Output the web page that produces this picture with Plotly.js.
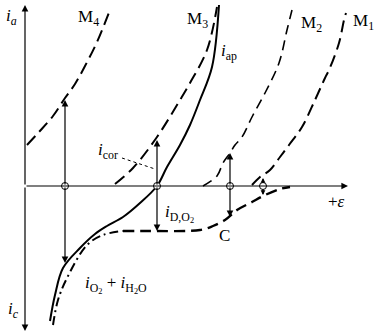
<!DOCTYPE html>
<html><head><meta charset="utf-8">
<script src="https://cdn.plot.ly/plotly-3.0.1.min.js"></script>
<style>html,body{margin:0;padding:0;background:#fff}</style>
</head><body><div id="chart" style="width:384px;height:336px"></div>
<script>
// Potential (ε) and current (i) in arbitrary units; origin = corrosion axes crossing
const m4E = [2, 14, 28, 40, 50, 60, 72, 85];
const m4I = [41, 54, 70, 88, 102, 120, 144, 176];
const m3E = [90, 108, 132, 155, 165, 182, 192];
const m3I = [2, 18, 49, 86, 103, 136, 179];
const m2E = [178, 192, 198, 205, 210, 217, 227, 240, 254, 262, 267];
const m2I = [0, 10, 23, 33, 41, 49, 69, 93, 123, 156, 176];
const m1E = [227, 235, 245, 255, 264, 277, 290, 300, 304, 314, 319, 321];
const m1I = [1, 9, 16, 29, 41, 59, 86, 108, 116, 143, 166, 173];
const sumE = [25, 30, 38, 55, 70, 82, 98, 115, 132, 142, 155, 165, 175, 187, 194];
const sumI = [-135, -109, -82, -62, -48, -40, -31, -17, 0, 19, 41, 61, 86, 119, 181];
const cathE1 = [28, 33, 42, 62, 78, 98];
const cathI1 = [-139, -114, -92, -59, -49, -45];
const cathE2 = [98, 125, 175, 188, 200, 212, 227, 238, 255, 265];
const cathI2 = [-45, -45, -44, -40, -34, -24, -16, -10, -3, -1];
const pointE = [40, 132, 205, 238];
const arrowUp = [86, 46, 33, 8];
const arrowDown = [-77, -45, -31, -9];
const leaderE = [97, 130];
const leaderI = [28, 17];

const font = {family: 'Liberation Serif, Times New Roman, serif', size: 17, color: '#000'};
const traces = [
  {x: m4E, y: m4I, mode: 'lines', line: {color: '#000', width: 2, dash: '12px,6px', shape: 'spline'}},
  {x: m3E, y: m3I, mode: 'lines', line: {color: '#000', width: 2, dash: '12px,6px', shape: 'spline'}},
  {x: m2E, y: m2I, mode: 'lines', line: {color: '#000', width: 1.6, dash: '10px,6px', shape: 'spline'}},
  {x: m1E, y: m1I, mode: 'lines', line: {color: '#000', width: 2, dash: '12px,6px', shape: 'spline'}},
  {x: sumE, y: sumI, mode: 'lines', line: {color: '#000', width: 2, shape: 'spline'}},
  {x: cathE1, y: cathI1, mode: 'lines', line: {color: '#000', width: 2, dash: '9px,4px,2px,4px', shape: 'spline'}},
  {x: cathE2, y: cathI2, mode: 'lines', line: {color: '#000', width: 2.4, dash: '11px,6px', shape: 'spline'}},
  {x: leaderE, y: leaderI, mode: 'lines', line: {color: '#000', width: 1, dash: 'dot'}},
];

const anns = [];
function arrow(x, y, ax, ay, small) {
  anns.push({x: x, y: y, ax: ax, ay: ay, xref: 'x', yref: 'y', axref: 'x', ayref: 'y',
    text: '', showarrow: true, arrowhead: 2, arrowsize: small ? 0.6 : 1.1, arrowwidth: small ? 1.6 : 1.2,
    arrowcolor: '#000', standoff: 0, startstandoff: small ? 2 : 0});
}
// axes
arrow(0, 181, 0, 0); arrow(0, -145, 0, 0); arrow(323, 0, 0, 0);
pointE.forEach((e, k) => { arrow(e, arrowUp[k], e, 0, k === 3); arrow(e, arrowDown[k], e, 0, k === 3); });

function label(x, y, t, size) {
  anns.push({x: x, y: y, xref: 'x', yref: 'y', text: t, showarrow: false,
    font: Object.assign({}, font, size ? {size: size} : {}), xanchor: 'center', yanchor: 'middle'});
}
label(-14, 169, '<i>i</i><sub><i>a</i></sub>');
label(-12, -124, '<i>i</i><sub><i>c</i></sub>');
label(63, 168, 'M<sub>4</sub>');
label(172, 166, 'M<sub>3</sub>');
label(286, 162, 'M<sub>2</sub>');
label(338, 164, 'M<sub>1</sub>');
label(204, 134, '<i>i</i><sub>ap</sub>');
label(83, 35, '<i>i</i><sub>cor</sub>');
label(154, -27, '<i>i</i><sub>D,O<sub>2</sub></sub>');
label(91, -98, '<i>i</i><sub>O<sub>2</sub></sub> + <i>i</i><sub>H<sub>2</sub>O</sub>');
label(199, -49, 'C');
label(311, -15, '+<i>ε</i>');

traces.push({x: pointE, y: pointE.map(() => 0), mode: 'markers',
  marker: {symbol: 'circle', size: 7, color: '#fff', line: {color: '#000', width: 1}}});

const layout = {
  width: 384, height: 336, margin: {l: 0, r: 0, t: 0, b: 0},
  paper_bgcolor: '#fff', plot_bgcolor: '#fff', showlegend: false,
  xaxis: {range: [-25, 359], visible: false, fixedrange: true},
  yaxis: {range: [-150, 186], visible: false, fixedrange: true},
  annotations: anns
};
Plotly.newPlot('chart', traces, layout, {staticPlot: true, displayModeBar: false});
</script></body></html>
